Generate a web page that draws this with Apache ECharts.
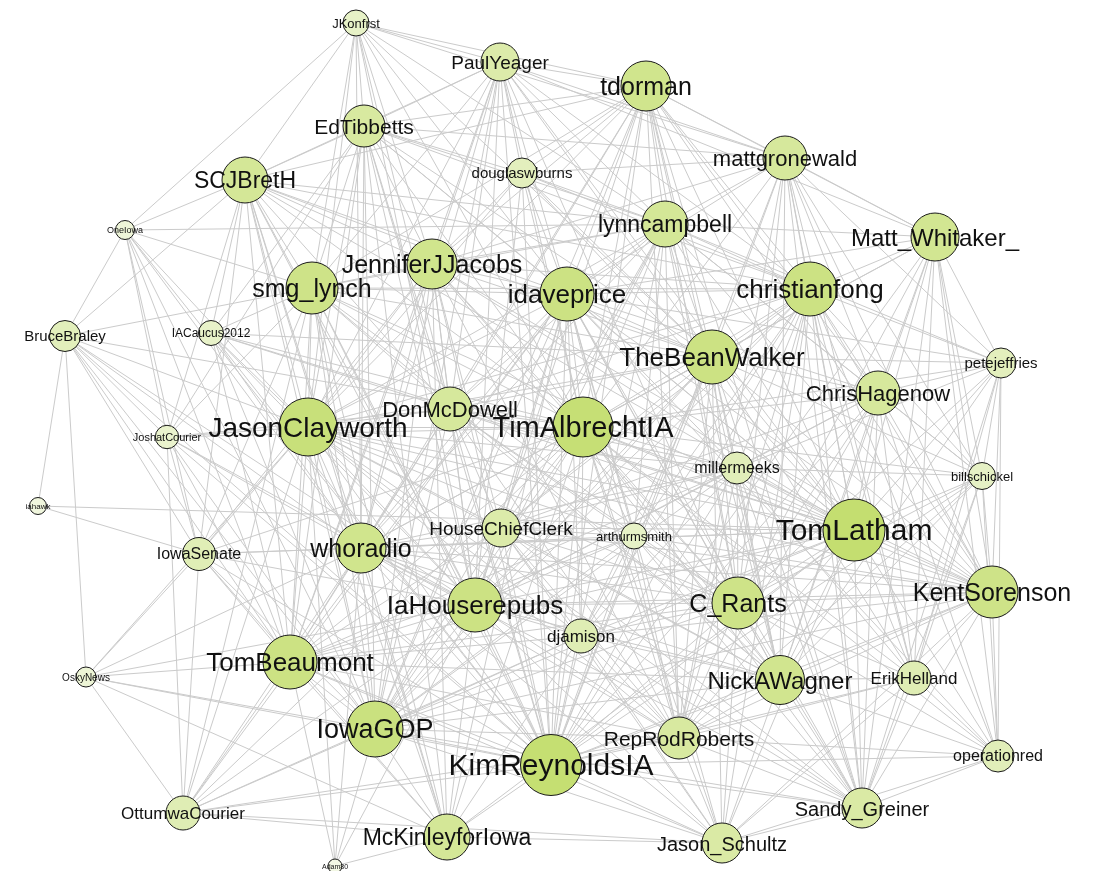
<!DOCTYPE html>
<html>
<head>
<meta charset="utf-8">
<title>network</title>
<script src="https://cdn.jsdelivr.net/npm/echarts@6/dist/echarts.min.js"></script>
<style>
html,body{margin:0;padding:0;background:#fff;}
#chartmain{width:1097px;height:871px;}
</style>
</head>
<body>
<div id="chartmain"></div>
<script>
// node names
var names = ["JKonfrst","PaulYeager","tdorman","EdTibbetts","SCJBretH","douglaswburns","mattgronewald","OneIowa",
    "lynncampbell","Matt_Whitaker_","JenniferJJacobs","smg_lynch","idaveprice","christianfong","BruceBraley","IACaucus2012",
    "TheBeanWalker","petejeffries","ChrisHagenow","DonMcDowell","JasonClayworth","TimAlbrechtIA","JoshatCourier","millermeeks",
    "billschickel","iahawk","TomLatham","HouseChiefClerk","arthurmsmith","IowaSenate","whoradio","KentSorenson",
    "C_Rants","IaHouserepubs","djamison","TomBeaumont","NickAWagner","ErikHelland","OskyNews","IowaGOP",
    "RepRodRoberts","KimReynoldsIA","operationred","OttumwaCourier","Sandy_Greiner","McKinleyforIowa","Jason_Schultz","Adam80"];
// layout coordinates
var layoutX = [356,500,646,364,245,522,785,125,665,935,432,312,567,810,65,211,712,1001,878,450,308,583,167,737,
    982,38,854,501,634,199,361,992,738,475,581,290,780,914,86,375,679,551,998,183,862,447,722,335];
var layoutY = [23,62,86,126,180,173,158,230,224,237,264,288,294,289,336,333,357,363,393,409,427,427,437,468,
    476,506,530,528,536,554,548,592,603,605,636,662,680,678,677,729,738,765,756,813,808,837,843,866];
// node weight
var weight = [13,19,25,21,23,15,22,9.5,23,24,25,26,27,27,15.5,12.5,27,15,22,22,29,30,11.7,16,
    13.5,8.5,31,19,13,16.5,25,26,26,27,17,27,24.5,17,10,28,21,30.5,16,17,20,23,20,7];
// neighbours
var adj = [
    [1,2,3,4,6,7,8,10,11,12,16,19,20,21,30,33],
    [2,3,4,5,6,8,9,10,11,12,13,16,19,20,21,26,30,32,33,35,39,41],
    [3,4,5,6,8,9,10,11,12,13,16,18,19,20,21,26,30,31,32,33,36,39,40,41,44],
    [4,5,6,8,10,11,12,13,15,16,19,20,21,22,26,30,33,35,39,41,45],
    [7,8,10,11,12,13,14,15,16,19,20,21,22,26,29,30,33,35,39,41,45],
    [6,8,10,12,13,16,20,21,26,33,41],
    [8,9,10,12,13,16,17,18,21,24,26,31,32,36,37,40,41,44],
    [8,11,14,20,22,29,30,35,39,41],
    [9,10,11,12,13,16,17,18,19,20,21,24,26,28,30,31,32,33,36,39,40,41],
    [12,13,16,17,18,21,24,26,31,32,36,37,41,42,44],
    [11,12,13,16,19,20,21,26,27,29,30,31,32,33,35,36,39,40,41,45],
    [12,13,14,15,16,19,20,21,22,26,29,30,32,33,35,36,39,41,43,45],
    [13,16,17,18,19,20,21,23,26,27,30,31,32,33,34,35,36,39,40,41,42,43,44,45,46],
    [16,17,18,21,23,24,26,31,32,33,36,37,39,40,41,42,44,46],
    [20,21,22,25,29,30,33,35,38,39,41],
    [16,19,20,21,26,30,33,35,39,41],
    [17,18,19,20,21,23,24,26,30,31,32,33,36,37,39,40,41,44,46],
    [18,21,24,26,31,32,36,37,42,44],
    [21,23,24,26,27,31,32,33,36,37,40,41,42,44],
    [8,12,13,16,20,21,22,26,27,28,30,31,32,33,35,36,39,40,41],
    [13,16,21,22,26,27,29,30,31,32,33,35,36,38,39,40,41,43,44,45,47],
    [22,23,24,26,27,28,29,30,31,32,33,34,35,36,37,39,40,41,42,43,44,45,46],
    [29,30,33,35,39,41,43],
    [17,19,20,24,26,27,30,31,32,33,34,35,36,37,39,40,41,44],
    [26,31,32,36,37,40,41,42,44],
    [26,29],
    [27,29,30,31,32,33,34,35,36,37,39,40,41,42,44,45,46],
    [8,13,16,28,30,31,32,33,34,35,36,39,40,41,44,46],
    [12,13,16,20,30,31,32,33,34,35,36,39,40,41,44],
    [30,33,35,38,39,41,43,45],
    [31,32,33,35,36,38,39,40,41,43,44,45,46,47],
    [32,33,36,37,39,40,41,42,44,46],
    [33,34,35,36,37,39,40,41,42,44,46],
    [34,35,36,38,39,40,41,43,45,46,47],
    [13,16,20,30,31,35,36,39,40,41,43,44,45,46],
    [36,38,39,40,41,43,45,46,47],
    [37,39,40,41,42,44,46],
    [40,41,42,44,46],
    [39,41,43,45],
    [40,41,43,44,45,46,47],
    [41,42,43,44,46],
    [42,43,44,45,46],
    [44,46],
    [45,46],
    [46],
    [46,47],
    [],
    []
];

function mix(a, b, t){
    var ca = [parseInt(a.substr(1,2),16),parseInt(a.substr(3,2),16),parseInt(a.substr(5,2),16)];
    var cb = [parseInt(b.substr(1,2),16),parseInt(b.substr(3,2),16),parseInt(b.substr(5,2),16)];
    var out = '#';
    for(var i=0;i<3;i++){
        var v = Math.round(ca[i]+(cb[i]-ca[i])*t).toString(16);
        out += (v.length<2?'0':'')+v;
    }
    return out;
}

var nodes = [];
for(var i=0;i<names.length;i++){
    var w = weight[i];
    var t = Math.max(0, Math.min(1, (w-7)/24));
    nodes.push({
        name: names[i],
        value: [layoutX[i], layoutY[i]],
        symbolSize: w*2,
        itemStyle: {color: mix('#f3f8e4', '#c4de70', t)},
        label: {fontSize: Math.round(w*0.98), offset: [0, Math.round(w*0.08)]}
    });
}

var links = [];
var seen = {};
for(var i=0;i<adj.length;i++){
    for(var k=0;k<adj[i].length;k++){
        var j = adj[i][k];
        var key = Math.min(i,j)+'-'+Math.max(i,j);
        if(i==j || seen[key]) continue;
        seen[key] = true;
        links.push({source: i, target: j});
    }
}

var option = {
    backgroundColor: '#ffffff',
    animation: false,
    grid: {left: 0, right: 0, top: 0, bottom: 0},
    xAxis: {type: 'value', min: 0, max: 1097, show: false},
    yAxis: {type: 'value', min: 0, max: 871, inverse: true, show: false},
    series: [{
        type: 'graph',
        coordinateSystem: 'cartesian2d',
        layout: 'none',
        data: nodes,
        links: links,
        symbol: 'circle',
        itemStyle: {
            borderColor: '#1a1a1a',
            borderWidth: 1
        },
        lineStyle: {
            color: '#cbcbcb',
            width: 1,
            opacity: 1,
            curveness: 0
        },
        label: {
            show: true,
            position: 'inside',
            color: '#111',
            fontFamily: 'Liberation Sans, Arial, sans-serif'
        },
        emphasis: {disabled: true}
    }]
};

var myChart = echarts.init(document.getElementById('chartmain'));
myChart.setOption(option);
</script>
</body>
</html>
